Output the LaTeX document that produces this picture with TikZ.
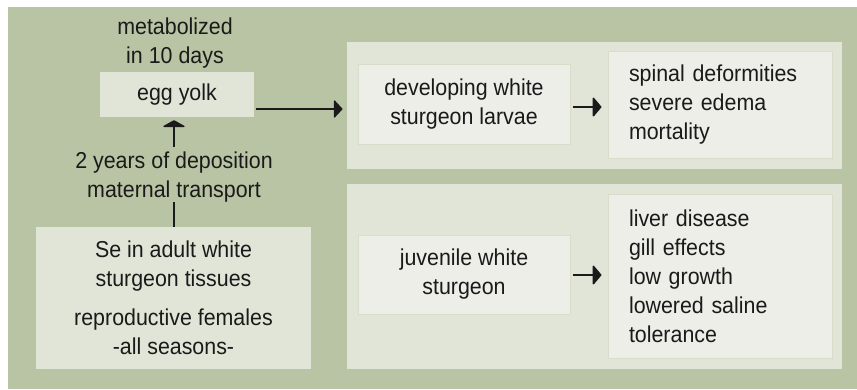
\documentclass[tikz,border=0pt]{standalone}
\usepackage{fontspec}
\setmainfont{Liberation Sans}[FakeStretch=0.93]
\usetikzlibrary{arrows.meta}
\definecolor{bggreen}{HTML}{B8C4A3}
\definecolor{panel}{HTML}{E1E5D7}
\definecolor{inner}{HTML}{ECEEE7}
\definecolor{innerline}{HTML}{D8DDCA}
\definecolor{ink}{HTML}{1A1A1A}
\tikzset{
  txt/.style={font=\fontsize{23}{29}\selectfont, text=ink, inner sep=0pt},
  panelbox/.style={fill=panel, draw=none, inner sep=0pt},
  innerbox/.style={fill=inner, draw=innerline, line width=1pt, inner sep=0pt,
                   font=\fontsize{23}{29}\selectfont, text=ink},
  conn/.style={draw=ink, line width=1.4pt},
  bigtip/.style={-{Triangle[length=9pt,width=19pt,round]}},
  uptip/.style={-{Triangle[length=7pt,width=25pt,round]}},
  smalltip/.style={-{Triangle[length=9pt,width=21pt,round]}}
}
\begin{document}
\begin{tikzpicture}[x=1pt,y=-1pt]
\useasboundingbox (0,0) rectangle (857,389);
\fill[white] (0,0) rectangle (857,389);
\fill[bggreen] (8,7) rectangle (857,389);
% panels
\fill[panel] (347,42) rectangle (842,169);
\fill[panel] (347,184) rectangle (842,369);
% left column
\node[txt, align=center] (meta) at (175,43) {metabolized\\in 10 days};
\node[panelbox, minimum width=154pt, minimum height=45pt, txt] (egg) at (177,94.5) {egg yolk};
\node[txt, align=center] (lbl) at (174,177) {2 years of deposition\\maternal transport};
\node[panelbox, minimum width=275pt, minimum height=142pt, txt, align=center] (se) at (173.5,298)
  {Se in adult white\\sturgeon tissues\\[10pt]reproductive females\\-all seasons-};
% top row
\node[innerbox, minimum width=212pt, minimum height=80pt, align=center] (larvae) at (464,104)
  {developing white\\sturgeon larvae};
\node[innerbox, minimum width=224pt, minimum height=107pt, text width=182pt, align=left] (spinal) at (720,104.5)
  {spinal deformities\\severe edema\\mortality};
% bottom row
\node[innerbox, minimum width=212pt, minimum height=79pt, align=center] (juv) at (464,274.5)
  {juvenile white\\sturgeon};
\node[innerbox, minimum width=224pt, minimum height=164pt, text width=182pt, align=left] (liver) at (720,276)
  {liver disease\\gill effects\\low growth\\lowered saline\\tolerance};
% connectors
\draw[conn] (se.north -| 174,0) -- (174,202);
\draw[conn, uptip, shorten >=3pt] (174,147) -- (egg.south -| 174,0);
\draw[conn, bigtip, shorten <=2pt, shorten >=15pt] (egg.east |- 0,109) -- (larvae.west |- 0,109);
\draw[conn, smalltip, shorten <=2pt, shorten >=6pt] (larvae.east |- 0,107) -- (spinal.west |- 0,107);
\draw[conn, smalltip, shorten <=2pt, shorten >=6pt] (juv.east |- 0,275) -- (liver.west |- 0,275);
\end{tikzpicture}
\end{document}
